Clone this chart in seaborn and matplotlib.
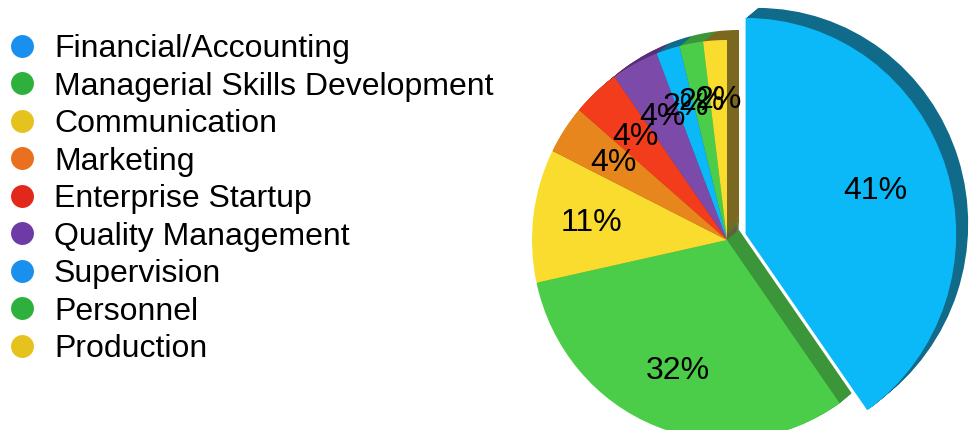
import matplotlib
matplotlib.use("Agg")
import matplotlib.pyplot as plt
import seaborn as sns
from matplotlib.lines import Line2D

categories = ["Financial/Accounting", "Managerial Skills Development", "Communication",
              "Marketing", "Enterprise Startup", "Quality Management",
              "Supervision", "Personnel", "Production"]
values = [41, 32, 11, 4, 4, 4, 2, 2, 2]
slice_colors = ["#0bb8f8", "#4ccd4a", "#fadc2e", "#e8861e", "#f23c1c", "#7c4aa8",
                "#0bb8f8", "#4ccd4a", "#fadc2e"]
side_colors = ["#106a8a", "#3a9638", "#7a6820", "#a85c14", "#a82a14", "#553078",
               "#106a8a", "#3a9638", "#7a6820"]
legend_colors = ["#1a90ee", "#2eb03c", "#e6c21e", "#e8701e", "#e2281a", "#6e3aa6",
                 "#1a90ee", "#2eb03c", "#e6c21e"]
explode = [0.1, 0, 0, 0, 0, 0, 0, 0, 0]

sns.set_theme(style="white")
plt.rcParams['font.family'] = ['Liberation Sans', 'DejaVu Sans']
plt.rcParams['text.color'] = 'black'

W, H = 974, 430
fig = plt.figure(figsize=(W / 100, H / 100), dpi=100)
ax = fig.add_axes([0, 0, 1, 1])
cx_px, cy_px = 727, 240
rx, ry = 195, 200
total = sum(values)
big = 1.08  # the exploded slice looks larger (perspective of the original)

# side (depth) layers of the pseudo-3D pie
steps = 10
for k in range(steps, 0, -1):
    dx = 12 * k / steps / rx
    dy = 10 * k / steps / ry
    wedges, _ = ax.pie(values, colors=side_colors, startangle=90, counterclock=False,
                       explode=explode, center=(dx, dy), wedgeprops=dict(linewidth=0))
    wedges[0].set_radius(big)

wedges, texts, autotexts = ax.pie(
    values, colors=slice_colors, startangle=90, counterclock=False,
    explode=explode, autopct=lambda p: f"{p * total / 100:.0f}%",
    pctdistance=0.7, textprops=dict(fontsize=23, color="black"),
    wedgeprops=dict(linewidth=0))
wedges[0].set_radius(big)

ax.set_aspect("auto")
ax.set_xlim(-cx_px / rx, (W - cx_px) / rx)
ax.set_ylim(-(H - cy_px) / ry, cy_px / ry)
ax.axis("off")

handles = [Line2D([], [], marker="o", linestyle="", markersize=16.5,
                  markerfacecolor=c, markeredgewidth=0) for c in legend_colors]
fig.legend(handles, categories, loc="upper left",
           bbox_to_anchor=(6 / W, 1 - 34 / H), bbox_transform=fig.transFigure,
           frameon=False, fontsize=23, labelspacing=0.235, handletextpad=0.5,
           handlelength=1.0, borderaxespad=0, borderpad=0, labelcolor="black")

fig.savefig("out.png", dpi=100)
